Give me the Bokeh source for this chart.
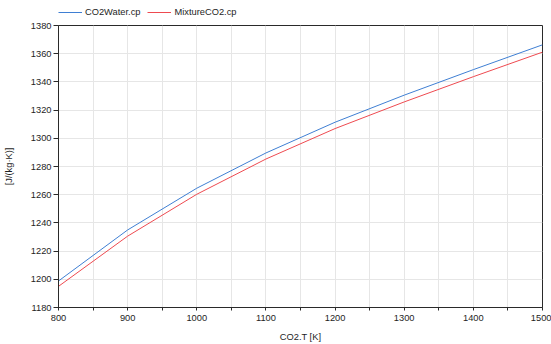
from bokeh.plotting import figure
from bokeh.models import Legend, LegendItem, FixedTicker, Range1d
from bokeh.layouts import column
from bokeh.embed import file_html
from bokeh.resources import INLINE

# Specific heat capacity vs. temperature
temperature = [800, 900, 1000, 1100, 1200, 1300, 1400, 1500]
co2water_cp = [1198.8, 1235.0, 1264.6, 1289.6, 1311.4, 1330.6, 1348.7, 1366.3]
mixtureco2_cp = [1195.0, 1230.6, 1260.3, 1285.3, 1306.9, 1325.8, 1343.7, 1361.1]
series_names = ["CO2Water.cp", "MixtureCO2.cp"]
series_colors = ["#3f7fd3", "#ee4a50"]

x_ticks = list(range(800, 1501, 50))
x_labels = {t: (str(t) if t % 100 == 0 else "") for t in x_ticks}
y_ticks = list(range(1180, 1381, 20))

FONT = "Liberation Sans"
FS = "9.3px"
TXT = "#1e1e1e"
W = 551
LEGEND_H = 18

# main chart
p = figure(width=W, height=344 - LEGEND_H, output_backend="svg", toolbar_location=None,
           x_range=Range1d(800, 1500), y_range=Range1d(1180, 1380),
           min_border_left=57, min_border_right=9, min_border_top=25 - LEGEND_H,
           min_border_bottom=37)

p.background_fill_color = "white"
p.border_fill_color = "white"
p.outline_line_color = "#2a2a2a"
p.outline_line_width = 1

series = [co2water_cp, mixtureco2_cp]
for vals, color in zip(series, series_colors):
    p.line(temperature, vals, line_color=color, line_width=1)

p.xaxis.ticker = FixedTicker(ticks=x_ticks, minor_ticks=[])
p.xaxis.major_label_overrides = x_labels
p.yaxis.ticker = FixedTicker(ticks=y_ticks, minor_ticks=[])

for ax in (p.xaxis[0], p.yaxis[0]):
    ax.axis_line_color = "#2a2a2a"
    ax.major_tick_line_color = "#2a2a2a"
    ax.major_tick_in = 0
    ax.minor_tick_line_color = None
    ax.major_label_text_font = FONT
    ax.major_label_text_font_size = FS
    ax.major_label_text_color = TXT
    ax.axis_label_text_font = FONT
    ax.axis_label_text_font_size = FS
    ax.axis_label_text_font_style = "normal"
    ax.axis_label_text_color = TXT

p.xaxis.major_tick_out = 3
p.xaxis.major_label_standoff = 4
p.xaxis.axis_label = "CO2.T [K]"
p.xaxis.axis_label_standoff = 8

p.yaxis.major_tick_out = 5
p.yaxis.major_label_standoff = 2
p.yaxis.axis_label = "[J/(kg·K)]"
p.yaxis.axis_label_standoff = 14

p.xgrid.grid_line_color = "#e6e6e6"
p.ygrid.grid_line_color = "#e6e6e6"

# legend strip above the chart; its frame starts where the chart's frame starts
top = figure(width=W, height=LEGEND_H, output_backend="svg", toolbar_location=None,
             x_axis_type=None, y_axis_type=None,
             min_border_left=57, min_border_right=9, min_border_top=0, min_border_bottom=0,
             x_range=Range1d(800, 1500), y_range=Range1d(0, 1))
top.outline_line_color = None
top.grid.visible = False
top.background_fill_color = "white"
top.border_fill_color = "white"

items = []
for name, vals, color in zip(series_names, series, series_colors):
    # same series, far outside this strip's y range, so only the legend swatch shows
    r = top.line(temperature, vals, line_color=color, line_width=1)
    items.append(LegendItem(label=name, renderers=[r]))

legend = Legend(items=items, location="bottom_left", orientation="horizontal",
                glyph_width=24, glyph_height=12, label_height=12,
                label_standoff=3, spacing=7, padding=0, margin=0,
                border_line_color=None, background_fill_alpha=0,
                label_text_font=FONT, label_text_font_size=FS, label_text_color=TXT)
top.add_layout(legend, "center")

layout = column(top, p, spacing=0)
open("out.html", "w").write(file_html(layout, INLINE))
